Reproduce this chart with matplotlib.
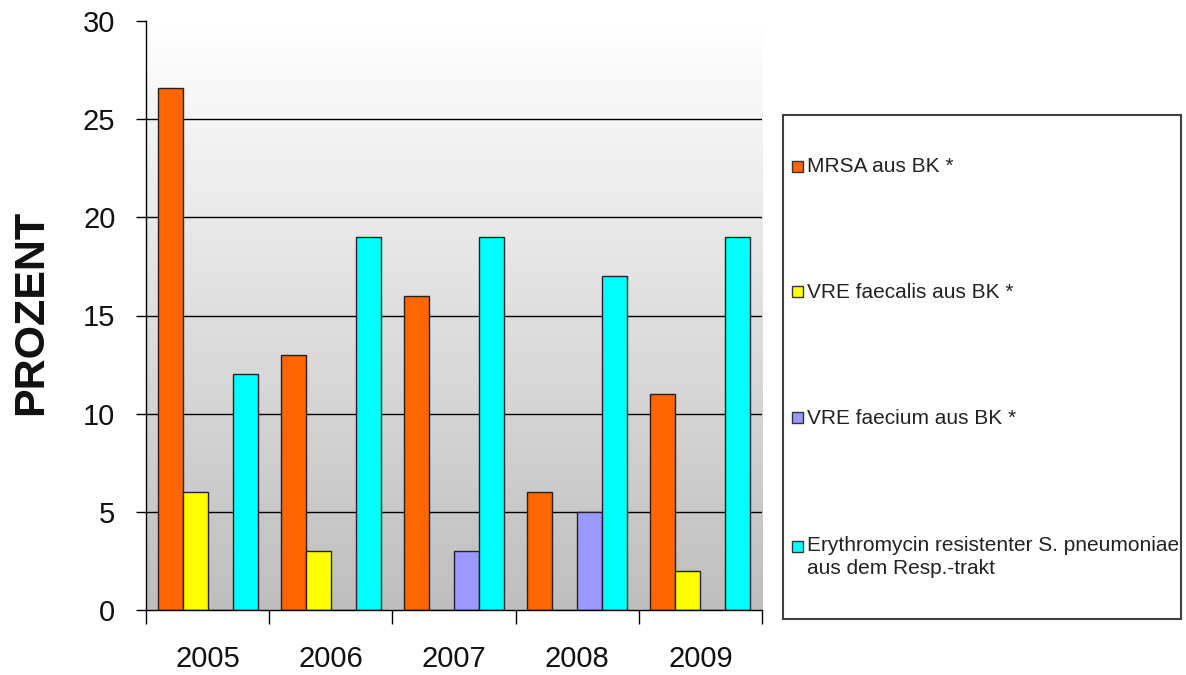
import numpy as np
import matplotlib
matplotlib.use("Agg")
import matplotlib.pyplot as plt
from matplotlib.patches import Rectangle
from matplotlib.colors import LinearSegmentedColormap

# Resistance rates per year (percent)
years = ["2005", "2006", "2007", "2008", "2009"]
mrsa = [26.6, 13, 16, 6, 11]
vre_faecalis = [6, 3, 0, 0, 2]
vre_faecium = [0, 0, 3, 5, 0]
ery_pneumo = [12, 19, 19, 17, 19]

series_labels = [
    "MRSA aus BK *",
    "VRE faecalis aus BK *",
    "VRE faecium aus BK *",
    "Erythromycin resistenter S. pneumoniae\naus dem Resp.-trakt",
]
series_colors = ["#FF6600", "#FFFF00", "#9999FF", "#00FFFF"]
y_ticks = [0, 5, 10, 15, 20, 25, 30]

plt.rcParams["font.family"] = ["Liberation Sans", "DejaVu Sans"]

W, H = 1186, 675
fig = plt.figure(figsize=(W / 100, H / 100), dpi=100)
fig.patch.set_facecolor("white")


def fx(px):
    return px / W


def fy(py):
    return 1 - py / H


ax = fig.add_axes([fx(146), fy(610), fx(762) - fx(146), fy(21) - fy(610)])
ax.set_xlim(-0.5, len(years) - 0.5)
ax.set_ylim(0, 30)

# vertical grey gradient behind the plot area
grad = np.linspace(1, 0, 256).reshape(-1, 1)
cmap = LinearSegmentedColormap.from_list("bg", ["#bebebe", "#ffffff"])
ax.imshow(grad, cmap=cmap, aspect="auto", extent=(-0.5, len(years) - 0.5, 0, 30),
          origin="upper", zorder=0, vmin=0, vmax=1)

# horizontal gridlines
for v in y_ticks[1:-1]:
    ax.axhline(v, color="black", lw=1.0, zorder=1)

series = [mrsa, vre_faecalis, vre_faecium, ery_pneumo]
x = np.arange(len(years))
w = 0.2033
for k, (vals, col) in enumerate(zip(series, series_colors)):
    ax.bar(x + (k - 1.5) * w, vals, width=w, color=col, edgecolor="#222222",
           linewidth=1.0, zorder=2)

for s in ["top", "right"]:
    ax.spines[s].set_visible(False)
ax.spines["left"].set_linewidth(1.0)
ax.spines["bottom"].set_linewidth(1.0)
ax.set_yticks(y_ticks)
ax.set_yticklabels([str(v) for v in y_ticks])
ax.set_xticks(np.arange(len(years) + 1) - 0.5, minor=False)
ax.set_xticklabels([""] * (len(years) + 1))
ax.set_xticks(x, minor=True)
ax.set_xticklabels(years, minor=True)
ax.tick_params(axis="x", which="major", length=10, width=1, direction="out")
ax.tick_params(axis="x", which="minor", length=0, pad=25, labelsize=21)
ax.tick_params(axis="y", length=7, width=1, direction="out", pad=15, labelsize=21)
for lbl in ax.get_xticklabels(minor=True) + ax.get_yticklabels():
    lbl.set_color("#111111")

fig.text(fx(31), fy(312), "PROZENT", rotation=90, fontsize=31, fontweight="bold",
         ha="center", va="center", color="#111111")

# legend box
fig.add_artist(Rectangle((fx(783), fy(619)), fx(1181) - fx(783), fy(115) - fy(619),
                         transform=fig.transFigure, facecolor="white",
                         edgecolor="#404040", linewidth=1.5))
entry_y = [167, 292, 418, 547]
for lab, col, ey in zip(series_labels, series_colors, entry_y):
    fig.add_artist(Rectangle((fx(792), fy(ey + 5)), fx(803) - fx(792), fy(ey - 6) - fy(ey + 5),
                             transform=fig.transFigure, facecolor=col,
                             edgecolor="#333333", linewidth=1.0))
    if "\n" in lab:
        fig.text(fx(807), fy(ey - 11), lab, fontsize=15, ha="left", va="top",
                 color="#222222", linespacing=1.3)
    else:
        fig.text(fx(807), fy(ey), lab, fontsize=15, ha="left", va="center",
                 color="#222222")

fig.savefig("out.png", dpi=100)
